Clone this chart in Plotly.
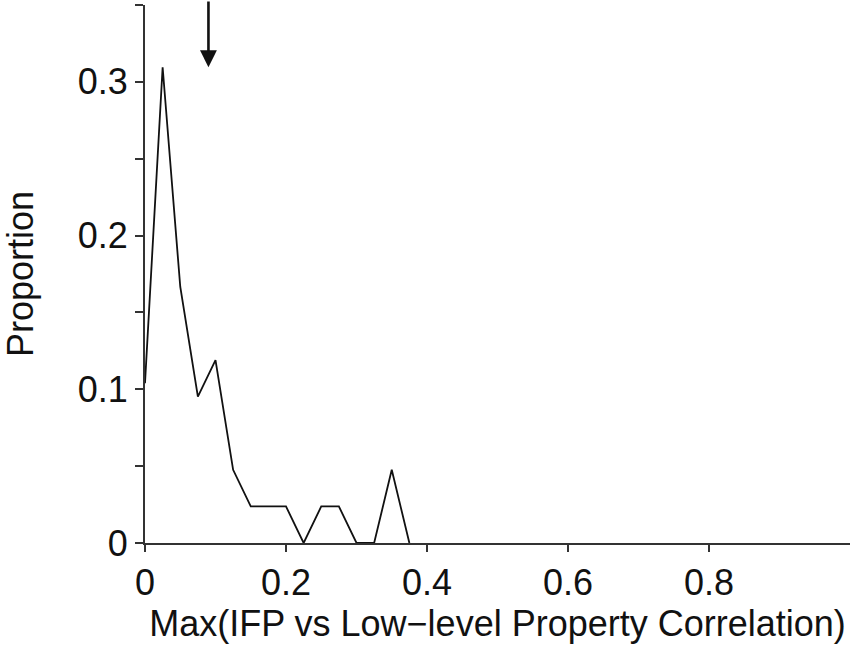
import plotly.graph_objects as go

# Distribution of the maximum IFP vs low-level property correlation
bin_centers = [0.0, 0.025, 0.05, 0.075, 0.1, 0.125, 0.15, 0.175, 0.2,
               0.225, 0.25, 0.275, 0.3, 0.325, 0.35, 0.375]
proportion = [0.104, 0.3095, 0.1667, 0.0952, 0.119, 0.0476, 0.0238, 0.0238,
              0.0238, 0.0, 0.0238, 0.0238, 0.0, 0.0, 0.0476, 0.0]

# Marker of the reference value
arrow_x = 0.09
arrow_y = 0.3095

y_tick_vals = [0, 0.05, 0.1, 0.15, 0.2, 0.25, 0.3, 0.35]
y_tick_text = ["0", "", "0.1", "", "0.2", "", "0.3", ""]
x_tick_vals = [0, 0.2, 0.4, 0.6, 0.8]
x_tick_text = ["0", "0.2", "0.4", "0.6", "0.8"]

font_family = "Liberation Sans, Arial, Helvetica, sans-serif"
fsize = 36

fig = go.Figure()
fig.add_trace(go.Scatter(
    x=bin_centers, y=proportion, mode="lines",
    line=dict(color="#111111", width=1.8),
    showlegend=False, cliponaxis=False,
))

fig.add_annotation(
    x=arrow_x, y=arrow_y, xref="x", yref="y",
    text="", showarrow=True, ax=0, ay=-72,
    arrowhead=2, arrowsize=1.3, arrowwidth=2.6, arrowcolor="#111111",
)

fig.update_layout(
    width=852, height=647,
    margin=dict(l=145, r=2, t=5, b=104),
    paper_bgcolor="white", plot_bgcolor="white",
    font=dict(family=font_family, size=fsize, color="#111111"),
    xaxis=dict(
        range=[0, 1], tickvals=x_tick_vals, ticktext=x_tick_text,
        ticks="outside", ticklen=7, tickwidth=1.5, tickcolor="#333333",
        showline=True, linecolor="#333333", linewidth=1.8,
        showgrid=False, zeroline=False,
        title=dict(text="Max(IFP vs Low\u2212level Property Correlation)",
                   standoff=5, font=dict(size=fsize)),
        tickfont=dict(size=fsize),
    ),
    yaxis=dict(
        range=[0, 0.35], tickvals=y_tick_vals, ticktext=y_tick_text,
        ticks="outside", ticklen=8, tickwidth=1.5, tickcolor="#333333",
        showline=True, linecolor="#333333", linewidth=1.8,
        showgrid=False, zeroline=False,
        title=dict(text="Proportion", standoff=34, font=dict(size=fsize)),
        tickfont=dict(size=fsize),
    ),
)

fig.write_html("out.html")
